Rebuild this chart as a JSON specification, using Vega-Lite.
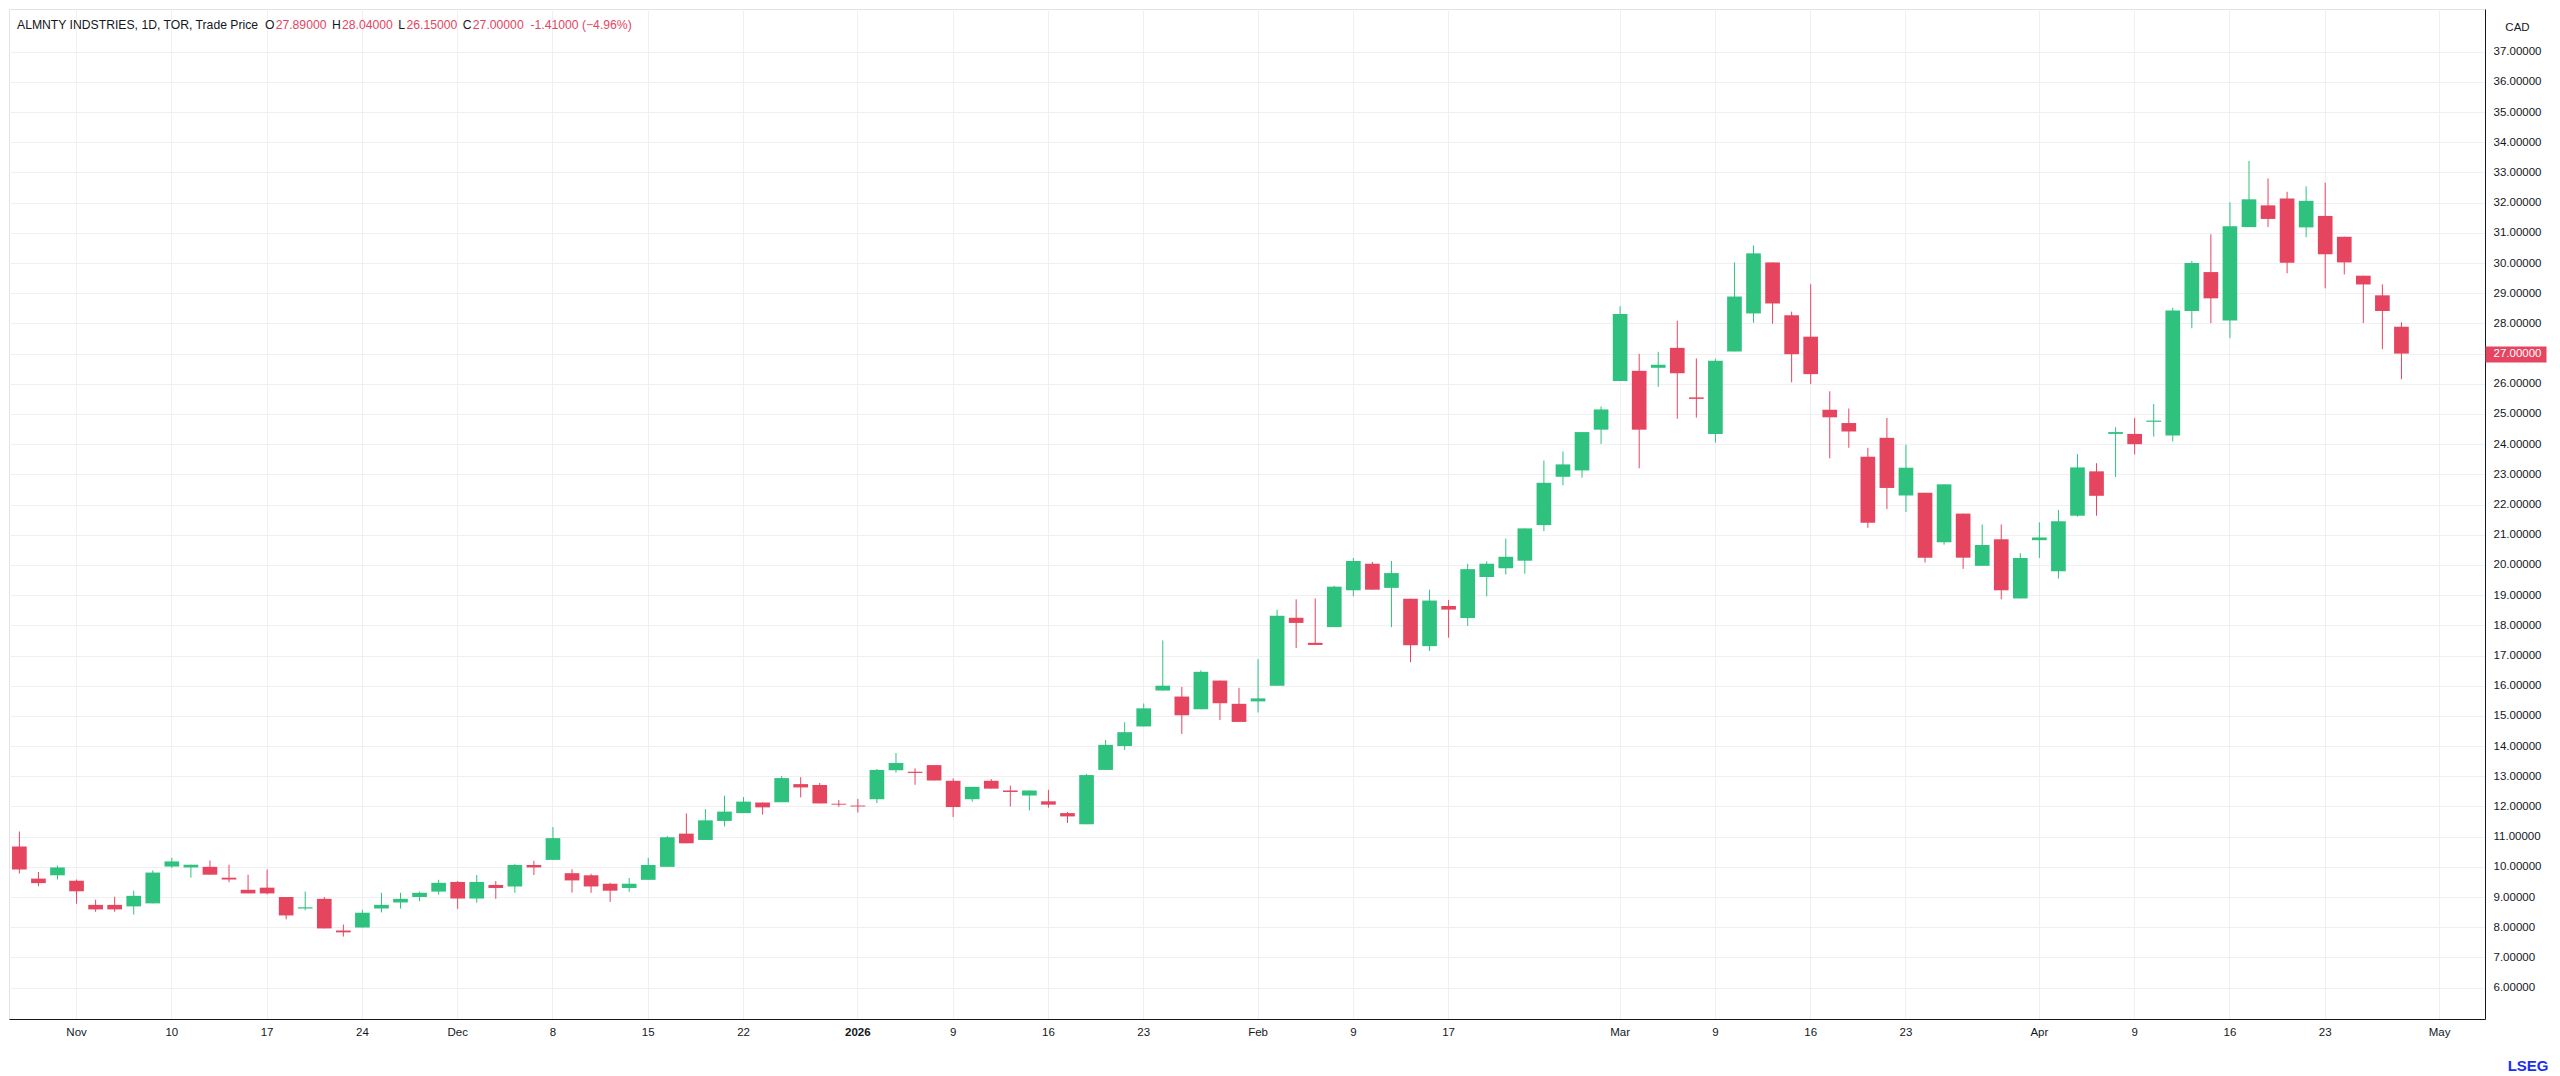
{
  "$schema": "https://vega.github.io/schema/vega-lite/v6.json",
  "width": 2476,
  "height": 1010,
  "autosize": "none",
  "padding": {"left": 9, "top": 9, "right": 75, "bottom": 57},
  "background": "white",
  "title": {
    "text": "ALMNTY INDSTRIES, 1D, TOR, Trade Price\u00a0\u00a0O\u00a0\u00a0\u00a0\u00a0\u00a0\u00a0\u00a0\u00a0\u00a0\u00a0\u00a0\u00a0\u00a0\u00a0\u00a0\u00a0\u00a0H\u00a0\u00a0\u00a0\u00a0\u00a0\u00a0\u00a0\u00a0\u00a0\u00a0\u00a0\u00a0\u00a0\u00a0\u00a0\u00a0\u00a0L\u00a0\u00a0\u00a0\u00a0\u00a0\u00a0\u00a0\u00a0\u00a0\u00a0\u00a0\u00a0\u00a0\u00a0\u00a0\u00a0\u00a0C",
    "subtitle": "\u2060\u2003\u2003\u2003\u2003\u2003\u2003\u2003\u2003\u2003\u2003\u2003\u2003\u2003\u2003\u2003\u2003\u2003\u2003\u2003\u2003\u00a0\u00a0\u2004\u200427.89000\u00a0\u00a0\u00a0\u00a0\u200628.04000\u00a0\u00a0\u00a0\u00a026.15000\u00a0\u00a0\u00a0\u00a0\u200627.00000\u00a0\u00a0-1.41000\u00a0(\u22124.96%)",
    "anchor": "start",
    "frame": "group",
    "orient": "top",
    "offset": -22,
    "dx": 8,
    "font": "Liberation Sans",
    "fontSize": 12.2,
    "fontWeight": "normal",
    "color": "#131722",
    "subtitleFont": "Liberation Sans",
    "subtitleFontSize": 12.2,
    "subtitleFontWeight": "normal",
    "subtitleColor": "#e5455f",
    "subtitlePadding": -12.2
  },
  "data": {
    "values": [
      {"d": "2025-10-29", "o": 10.67, "h": 11.17, "l": 9.78, "c": 9.91},
      {"d": "2025-10-30", "o": 9.61, "h": 9.83, "l": 9.36, "c": 9.46},
      {"d": "2025-10-31", "o": 9.72, "h": 10.04, "l": 9.58, "c": 9.98},
      {"d": "2025-11-03", "o": 9.54, "h": 9.58, "l": 8.78, "c": 9.19},
      {"d": "2025-11-04", "o": 8.74, "h": 8.91, "l": 8.51, "c": 8.59},
      {"d": "2025-11-05", "o": 8.74, "h": 9.01, "l": 8.51, "c": 8.59},
      {"d": "2025-11-06", "o": 8.69, "h": 9.21, "l": 8.42, "c": 9.04},
      {"d": "2025-11-07", "o": 8.79, "h": 9.88, "l": 8.79, "c": 9.81},
      {"d": "2025-11-10", "o": 10.01, "h": 10.30, "l": 9.96, "c": 10.18},
      {"d": "2025-11-11", "o": 9.98, "h": 10.07, "l": 9.64, "c": 10.07},
      {"d": "2025-11-12", "o": 10.00, "h": 10.21, "l": 9.74, "c": 9.74},
      {"d": "2025-11-13", "o": 9.64, "h": 10.07, "l": 9.49, "c": 9.58},
      {"d": "2025-11-14", "o": 9.24, "h": 9.74, "l": 9.12, "c": 9.12},
      {"d": "2025-11-17", "o": 9.31, "h": 9.91, "l": 9.09, "c": 9.12},
      {"d": "2025-11-18", "o": 9.00, "h": 9.00, "l": 8.26, "c": 8.39},
      {"d": "2025-11-19", "o": 8.62, "h": 9.18, "l": 8.56, "c": 8.66},
      {"d": "2025-11-20", "o": 8.94, "h": 9.00, "l": 7.96, "c": 7.96},
      {"d": "2025-11-21", "o": 7.89, "h": 8.09, "l": 7.69, "c": 7.83},
      {"d": "2025-11-24", "o": 7.99, "h": 8.58, "l": 7.99, "c": 8.48},
      {"d": "2025-11-25", "o": 8.62, "h": 9.14, "l": 8.49, "c": 8.74},
      {"d": "2025-11-26", "o": 8.82, "h": 9.14, "l": 8.62, "c": 8.94},
      {"d": "2025-11-27", "o": 9.00, "h": 9.18, "l": 8.86, "c": 9.14},
      {"d": "2025-11-28", "o": 9.18, "h": 9.57, "l": 9.08, "c": 9.47},
      {"d": "2025-12-01", "o": 9.50, "h": 9.53, "l": 8.61, "c": 8.95},
      {"d": "2025-12-02", "o": 8.95, "h": 9.73, "l": 8.81, "c": 9.50},
      {"d": "2025-12-03", "o": 9.40, "h": 9.53, "l": 8.94, "c": 9.30},
      {"d": "2025-12-04", "o": 9.35, "h": 10.10, "l": 9.14, "c": 10.06},
      {"d": "2025-12-05", "o": 10.06, "h": 10.20, "l": 9.73, "c": 9.98},
      {"d": "2025-12-08", "o": 10.23, "h": 11.32, "l": 10.23, "c": 10.95},
      {"d": "2025-12-09", "o": 9.79, "h": 9.92, "l": 9.15, "c": 9.55},
      {"d": "2025-12-10", "o": 9.72, "h": 9.77, "l": 9.14, "c": 9.35},
      {"d": "2025-12-11", "o": 9.44, "h": 9.47, "l": 8.84, "c": 9.21},
      {"d": "2025-12-12", "o": 9.30, "h": 9.63, "l": 9.17, "c": 9.44},
      {"d": "2025-12-15", "o": 9.57, "h": 10.30, "l": 9.57, "c": 10.06},
      {"d": "2025-12-16", "o": 10.00, "h": 11.02, "l": 10.00, "c": 10.98},
      {"d": "2025-12-17", "o": 11.10, "h": 11.77, "l": 10.78, "c": 10.78},
      {"d": "2025-12-18", "o": 10.89, "h": 11.91, "l": 10.89, "c": 11.54},
      {"d": "2025-12-19", "o": 11.52, "h": 12.36, "l": 11.34, "c": 11.83},
      {"d": "2025-12-22", "o": 11.78, "h": 12.31, "l": 11.78, "c": 12.16},
      {"d": "2025-12-23", "o": 12.13, "h": 12.13, "l": 11.73, "c": 11.97},
      {"d": "2025-12-24", "o": 12.14, "h": 13.01, "l": 12.14, "c": 12.94},
      {"d": "2025-12-29", "o": 12.74, "h": 12.97, "l": 12.30, "c": 12.63},
      {"d": "2025-12-30", "o": 12.71, "h": 12.78, "l": 12.10, "c": 12.10},
      {"d": "2025-12-31", "o": 12.09, "h": 12.21, "l": 11.99, "c": 12.06},
      {"d": "2026-01-02", "o": 12.03, "h": 12.25, "l": 11.80, "c": 12.00},
      {"d": "2026-01-05", "o": 12.24, "h": 13.24, "l": 12.11, "c": 13.21},
      {"d": "2026-01-06", "o": 13.20, "h": 13.77, "l": 13.12, "c": 13.44},
      {"d": "2026-01-07", "o": 13.15, "h": 13.26, "l": 12.72, "c": 13.11},
      {"d": "2026-01-08", "o": 13.37, "h": 13.37, "l": 12.86, "c": 12.86},
      {"d": "2026-01-09", "o": 12.85, "h": 12.93, "l": 11.65, "c": 11.98},
      {"d": "2026-01-12", "o": 12.24, "h": 12.65, "l": 12.16, "c": 12.65},
      {"d": "2026-01-13", "o": 12.85, "h": 12.91, "l": 12.59, "c": 12.59},
      {"d": "2026-01-14", "o": 12.53, "h": 12.69, "l": 12.00, "c": 12.48},
      {"d": "2026-01-15", "o": 12.36, "h": 12.53, "l": 11.87, "c": 12.53},
      {"d": "2026-01-16", "o": 12.17, "h": 12.55, "l": 11.96, "c": 12.06},
      {"d": "2026-01-19", "o": 11.78, "h": 11.82, "l": 11.45, "c": 11.67},
      {"d": "2026-01-20", "o": 11.41, "h": 13.08, "l": 11.41, "c": 13.04},
      {"d": "2026-01-21", "o": 13.21, "h": 14.20, "l": 13.21, "c": 14.04},
      {"d": "2026-01-22", "o": 14.00, "h": 14.79, "l": 13.87, "c": 14.46},
      {"d": "2026-01-23", "o": 14.65, "h": 15.41, "l": 14.65, "c": 15.25},
      {"d": "2026-01-26", "o": 15.84, "h": 17.50, "l": 15.84, "c": 16.00},
      {"d": "2026-01-27", "o": 15.64, "h": 15.96, "l": 14.40, "c": 15.02},
      {"d": "2026-01-28", "o": 15.22, "h": 16.51, "l": 15.22, "c": 16.46},
      {"d": "2026-01-29", "o": 16.17, "h": 16.17, "l": 14.86, "c": 15.42},
      {"d": "2026-01-30", "o": 15.40, "h": 15.93, "l": 14.80, "c": 14.80},
      {"d": "2026-02-02", "o": 15.48, "h": 16.88, "l": 15.11, "c": 15.58},
      {"d": "2026-02-03", "o": 16.00, "h": 18.52, "l": 16.00, "c": 18.32},
      {"d": "2026-02-04", "o": 18.25, "h": 18.86, "l": 17.25, "c": 18.08},
      {"d": "2026-02-05", "o": 17.42, "h": 18.89, "l": 17.35, "c": 17.35},
      {"d": "2026-02-06", "o": 17.94, "h": 19.31, "l": 17.94, "c": 19.28},
      {"d": "2026-02-09", "o": 19.16, "h": 20.23, "l": 18.96, "c": 20.13},
      {"d": "2026-02-10", "o": 20.04, "h": 20.10, "l": 19.18, "c": 19.18},
      {"d": "2026-02-11", "o": 19.24, "h": 20.13, "l": 17.94, "c": 19.73},
      {"d": "2026-02-12", "o": 18.88, "h": 18.88, "l": 16.78, "c": 17.34},
      {"d": "2026-02-13", "o": 17.31, "h": 19.18, "l": 17.15, "c": 18.82},
      {"d": "2026-02-17", "o": 18.64, "h": 18.84, "l": 17.59, "c": 18.52},
      {"d": "2026-02-18", "o": 18.24, "h": 20.04, "l": 17.98, "c": 19.86},
      {"d": "2026-02-19", "o": 19.60, "h": 20.12, "l": 18.96, "c": 20.04},
      {"d": "2026-02-20", "o": 19.89, "h": 20.87, "l": 19.68, "c": 20.27},
      {"d": "2026-02-23", "o": 20.14, "h": 21.21, "l": 19.71, "c": 21.21},
      {"d": "2026-02-24", "o": 21.32, "h": 23.46, "l": 21.12, "c": 22.72},
      {"d": "2026-02-25", "o": 22.92, "h": 23.76, "l": 22.64, "c": 23.33},
      {"d": "2026-02-26", "o": 23.13, "h": 24.40, "l": 22.89, "c": 24.40},
      {"d": "2026-02-27", "o": 24.48, "h": 25.25, "l": 24.01, "c": 25.15},
      {"d": "2026-03-02", "o": 26.09, "h": 28.57, "l": 26.09, "c": 28.31},
      {"d": "2026-03-03", "o": 26.43, "h": 26.99, "l": 23.20, "c": 24.48},
      {"d": "2026-03-04", "o": 26.53, "h": 27.06, "l": 25.90, "c": 26.63},
      {"d": "2026-03-05", "o": 27.19, "h": 28.09, "l": 24.84, "c": 26.35},
      {"d": "2026-03-06", "o": 25.55, "h": 26.84, "l": 24.88, "c": 25.50},
      {"d": "2026-03-09", "o": 24.34, "h": 26.83, "l": 24.05, "c": 26.76},
      {"d": "2026-03-10", "o": 27.07, "h": 30.02, "l": 27.07, "c": 28.89},
      {"d": "2026-03-11", "o": 28.33, "h": 30.58, "l": 28.02, "c": 30.32},
      {"d": "2026-03-12", "o": 30.02, "h": 30.02, "l": 27.99, "c": 28.66},
      {"d": "2026-03-13", "o": 28.27, "h": 28.39, "l": 26.05, "c": 26.98},
      {"d": "2026-03-16", "o": 27.56, "h": 29.30, "l": 25.99, "c": 26.32},
      {"d": "2026-03-17", "o": 25.14, "h": 25.75, "l": 23.53, "c": 24.89},
      {"d": "2026-03-18", "o": 24.70, "h": 25.18, "l": 23.88, "c": 24.42},
      {"d": "2026-03-19", "o": 23.58, "h": 23.88, "l": 21.23, "c": 21.40},
      {"d": "2026-03-20", "o": 24.21, "h": 24.87, "l": 21.85, "c": 22.55},
      {"d": "2026-03-23", "o": 22.30, "h": 23.98, "l": 21.75, "c": 23.22},
      {"d": "2026-03-24", "o": 22.39, "h": 22.39, "l": 20.08, "c": 20.24},
      {"d": "2026-03-25", "o": 20.75, "h": 22.67, "l": 20.67, "c": 22.67},
      {"d": "2026-03-26", "o": 21.70, "h": 21.70, "l": 19.87, "c": 20.24},
      {"d": "2026-03-27", "o": 19.97, "h": 21.34, "l": 19.97, "c": 20.66},
      {"d": "2026-03-30", "o": 20.85, "h": 21.34, "l": 18.86, "c": 19.16},
      {"d": "2026-03-31", "o": 18.89, "h": 20.39, "l": 18.89, "c": 20.23},
      {"d": "2026-04-01", "o": 20.82, "h": 21.41, "l": 20.23, "c": 20.91},
      {"d": "2026-04-02", "o": 19.79, "h": 21.82, "l": 19.55, "c": 21.45},
      {"d": "2026-04-06", "o": 21.63, "h": 23.67, "l": 21.60, "c": 23.23},
      {"d": "2026-04-07", "o": 23.10, "h": 23.37, "l": 21.63, "c": 22.29},
      {"d": "2026-04-08", "o": 24.34, "h": 24.56, "l": 22.91, "c": 24.40},
      {"d": "2026-04-09", "o": 24.34, "h": 24.87, "l": 23.66, "c": 24.00},
      {"d": "2026-04-10", "o": 24.74, "h": 25.33, "l": 24.25, "c": 24.78},
      {"d": "2026-04-13", "o": 24.29, "h": 28.52, "l": 24.09, "c": 28.43},
      {"d": "2026-04-14", "o": 28.41, "h": 30.07, "l": 27.84, "c": 30.00},
      {"d": "2026-04-15", "o": 29.70, "h": 30.95, "l": 28.01, "c": 28.83},
      {"d": "2026-04-16", "o": 28.10, "h": 32.01, "l": 27.51, "c": 31.22},
      {"d": "2026-04-17", "o": 31.19, "h": 33.38, "l": 31.19, "c": 32.11},
      {"d": "2026-04-20", "o": 31.91, "h": 32.80, "l": 31.19, "c": 31.46},
      {"d": "2026-04-21", "o": 32.14, "h": 32.36, "l": 29.66, "c": 30.01},
      {"d": "2026-04-22", "o": 31.18, "h": 32.54, "l": 30.85, "c": 32.06},
      {"d": "2026-04-23", "o": 31.56, "h": 32.66, "l": 29.16, "c": 30.29},
      {"d": "2026-04-24", "o": 30.87, "h": 30.87, "l": 29.62, "c": 30.02},
      {"d": "2026-04-27", "o": 29.58, "h": 29.58, "l": 28.01, "c": 29.29},
      {"d": "2026-04-28", "o": 28.93, "h": 29.29, "l": 27.15, "c": 28.41},
      {"d": "2026-04-29", "o": 27.89, "h": 28.04, "l": 26.15, "c": 27.00}
    ]
  },
  "encoding": {
    "x": {
      "field": "d",
      "type": "ordinal",
      "scale": {
        "type": "band",
        "round": false,
        "paddingInner": 0.23,
        "paddingOuter": 0.08,
        "align": 1,
        "domain": [
          "2025-10-29", "2025-10-30", "2025-10-31",
          "2025-11-03", "2025-11-04", "2025-11-05", "2025-11-06", "2025-11-07",
          "2025-11-10", "2025-11-11", "2025-11-12", "2025-11-13", "2025-11-14",
          "2025-11-17", "2025-11-18", "2025-11-19", "2025-11-20", "2025-11-21",
          "2025-11-24", "2025-11-25", "2025-11-26", "2025-11-27", "2025-11-28",
          "2025-12-01", "2025-12-02", "2025-12-03", "2025-12-04", "2025-12-05",
          "2025-12-08", "2025-12-09", "2025-12-10", "2025-12-11", "2025-12-12",
          "2025-12-15", "2025-12-16", "2025-12-17", "2025-12-18", "2025-12-19",
          "2025-12-22", "2025-12-23", "2025-12-24", "2025-12-29", "2025-12-30", "2025-12-31",
          "2026-01-02", "2026-01-05", "2026-01-06", "2026-01-07", "2026-01-08", "2026-01-09",
          "2026-01-12", "2026-01-13", "2026-01-14", "2026-01-15", "2026-01-16",
          "2026-01-19", "2026-01-20", "2026-01-21", "2026-01-22", "2026-01-23",
          "2026-01-26", "2026-01-27", "2026-01-28", "2026-01-29", "2026-01-30",
          "2026-02-02", "2026-02-03", "2026-02-04", "2026-02-05", "2026-02-06",
          "2026-02-09", "2026-02-10", "2026-02-11", "2026-02-12", "2026-02-13",
          "2026-02-17", "2026-02-18", "2026-02-19", "2026-02-20",
          "2026-02-23", "2026-02-24", "2026-02-25", "2026-02-26", "2026-02-27",
          "2026-03-02", "2026-03-03", "2026-03-04", "2026-03-05", "2026-03-06",
          "2026-03-09", "2026-03-10", "2026-03-11", "2026-03-12", "2026-03-13",
          "2026-03-16", "2026-03-17", "2026-03-18", "2026-03-19", "2026-03-20",
          "2026-03-23", "2026-03-24", "2026-03-25", "2026-03-26", "2026-03-27",
          "2026-03-30", "2026-03-31", "2026-04-01", "2026-04-02",
          "2026-04-06", "2026-04-07", "2026-04-08", "2026-04-09", "2026-04-10",
          "2026-04-13", "2026-04-14", "2026-04-15", "2026-04-16", "2026-04-17",
          "2026-04-20", "2026-04-21", "2026-04-22", "2026-04-23", "2026-04-24",
          "2026-04-27", "2026-04-28", "2026-04-29", "2026-04-30", "2026-05-01",
          "2026-05-04", "2026-05-05"
        ]
      },
      "axis": {
        "values": [
          "2025-11-03", "2025-11-10", "2025-11-17", "2025-11-24", "2025-12-01",
          "2025-12-08", "2025-12-15", "2025-12-22", "2026-01-02", "2026-01-09",
          "2026-01-16", "2026-01-23", "2026-02-02", "2026-02-09", "2026-02-17",
          "2026-03-02", "2026-03-09", "2026-03-16", "2026-03-23", "2026-04-01",
          "2026-04-09", "2026-04-16", "2026-04-23", "2026-05-01"
        ],
        "labelExpr": "datum.value == '2026-01-02' ? '2026' : (indexof(['2025-11-03','2025-12-01','2026-02-02','2026-03-02','2026-04-01','2026-05-01'], datum.value) >= 0 ? ['Jan','Feb','Mar','Apr','May','Jun','Jul','Aug','Sep','Oct','Nov','Dec'][toNumber(slice(datum.value, 5, 7)) - 1] : '' + toNumber(slice(datum.value, 8, 10)))",
        "labelFontWeight": {"condition": {"test": "datum.value == '2026-01-02'", "value": "bold"}, "value": "normal"},
        "bandPosition": 0.5,
        "labelAngle": 0,
        "labelFont": "Liberation Sans",
        "labelFontSize": 11.5,
        "labelColor": "#131722",
        "labelPadding": 7,
        "ticks": false,
        "domainColor": "#131722",
        "domainWidth": 1,
        "grid": true,
        "gridColor": "#f0f0f2",
        "title": "LSEG",
        "titleX": 2539,
        "titleY": 46,
        "titleAlign": "right",
        "titleBaseline": "middle",
        "titleFont": "Liberation Sans",
        "titleFontSize": 15,
        "titleFontWeight": "bold",
        "titleColor": "#1a2ff0"
      }
    },
    "color": {
      "condition": {"test": "datum.c >= datum.o", "value": "#2ec27e"},
      "value": "#e5455f"
    }
  },
  "layer": [
    {
      "mark": {"type": "rule", "strokeWidth": 1},
      "encoding": {
        "y": {
          "field": "l",
          "type": "quantitative",
          "scale": {"domain": [4.96, 38.414], "nice": false, "zero": false},
          "axis": {
            "orient": "right",
            "values": [6, 7, 8, 9, 10, 11, 12, 13, 14, 15, 16, 17, 18, 19, 20, 21, 22, 23, 24, 25, 26, 28, 29, 30, 31, 32, 33, 34, 35, 36, 37],
            "format": ".5f",
            "labelFont": "Liberation Sans",
            "labelFontSize": 11.5,
            "labelColor": "#131722",
            "labelPadding": 8,
            "ticks": false,
            "domainColor": "#131722",
            "domainWidth": 1,
            "grid": true,
            "gridColor": "#f0f0f2",
            "title": "CAD",
            "titleAngle": 0,
            "titleX": 32,
            "titleY": 18,
            "titleAlign": "center",
            "titleBaseline": "middle",
            "titleFont": "Liberation Sans",
            "titleFontSize": 11.5,
            "titleFontWeight": "normal",
            "titleColor": "#131722"
          }
        },
        "y2": {"field": "h"}
      }
    },
    {
      "mark": {"type": "bar"},
      "encoding": {
        "y": {
          "field": "o",
          "type": "quantitative",
          "scale": {"domain": [4.96, 38.414], "nice": false, "zero": false},
          "axis": {
            "orient": "right",
            "values": [27],
            "format": ".5f",
            "labelFont": "Liberation Sans",
            "labelFontSize": 11.5,
            "labelColor": "white",
            "ticks": true,
            "tickSize": 61,
            "tickWidth": 16,
            "tickCap": "butt",
            "tickColor": "#e5455f",
            "labelPadding": -53,
            "domain": false,
            "grid": true,
            "gridColor": "#f0f0f2",
            "title": null
          }
        },
        "y2": {"field": "c"}
      }
    }
  ],
  "resolve": {"axis": {"y": "independent"}},
  "config": {
    "view": {"stroke": "#e3e3e6"}
  }
}
